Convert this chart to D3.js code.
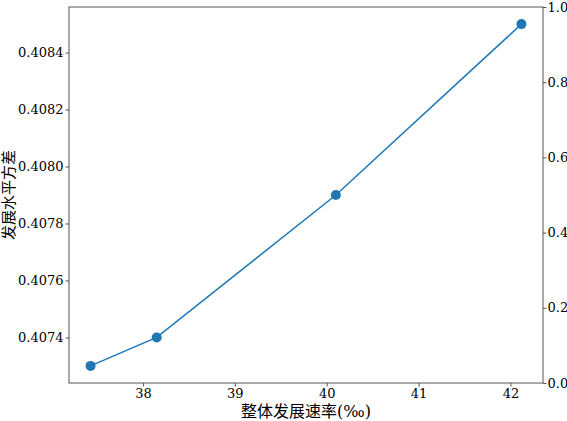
<!DOCTYPE html>
<html>
<head>
<meta charset="utf-8">
<script src="https://cdn.jsdelivr.net/npm/d3@7"></script>
<style>
  body { margin: 0; background: #fff; }
  svg text { font-family: "DejaVu Serif", "Noto Sans CJK SC", serif !important; }
</style>
</head>
<body>
<svg width="567" height="421"></svg>
<script>
// data
var rates     = [37.43, 38.15, 40.10, 42.12];
var variances = [0.4073, 0.4074, 0.4079, 0.4085];
var xTicks    = [38, 39, 40, 41, 42];
var yTicks    = [0.4074, 0.4076, 0.4078, 0.4080, 0.4082, 0.4084];
var rTicks    = [0.0, 0.2, 0.4, 0.6, 0.8, 1.0];

var svg = d3.select("svg");
var margin = {top: 7, right: 24, bottom: 38, left: 69};
var width  = 567 - margin.left - margin.right,
    height = 421 - margin.top - margin.bottom;

// matplotlib style 5% padding
var xr = d3.extent(rates), yr = d3.extent(variances);
var xPad = (xr[1] - xr[0]) * 0.05, yPad = (yr[1] - yr[0]) * 0.05;

var xScale = d3.scaleLinear().domain([xr[0] - xPad, xr[1] + xPad]).range([0, width]);
var yScale = d3.scaleLinear().domain([yr[0] - yPad, yr[1] + yPad]).range([height, 0]);
var rScale = d3.scaleLinear().domain([0, 1]).range([height, 0]);

var g = svg.append("g")
  .attr("transform", "translate(" + margin.left + "," + margin.top + ")");

var xAxis = d3.axisBottom(xScale).tickValues(xTicks).tickSize(3.5).tickPadding(2)
  .tickFormat(d3.format("d"));
var yAxis = d3.axisLeft(yScale).tickValues(yTicks).tickSize(3.5).tickPadding(2)
  .tickFormat(d3.format(".4f"));
var rAxis = d3.axisRight(rScale).tickValues(rTicks).tickSize(3.5).tickPadding(1)
  .tickFormat(d3.format(".1f"));

var gX = g.append("g").attr("transform", "translate(0," + height + ")").call(xAxis);
var gY = g.append("g").call(yAxis);
var gR = g.append("g").attr("transform", "translate(" + width + ",0)").call(rAxis);

[gX, gY, gR].forEach(function(a) {
  a.attr("font-size", 13);
  a.select(".domain").remove();
  a.selectAll("line").attr("stroke", "#555").attr("stroke-width", 1);
  a.selectAll("text").attr("fill", "#000");
});

// frame
g.append("rect")
  .attr("width", width).attr("height", height)
  .attr("fill", "none").attr("stroke", "#555").attr("stroke-width", 1);

var line = d3.line()
  .x(function(d, i) { return xScale(rates[i]); })
  .y(function(d) { return yScale(d); });

g.append("path")
  .datum(variances)
  .attr("d", line)
  .attr("fill", "none")
  .attr("stroke", "#1f77b4")
  .attr("stroke-width", 1.5);

g.selectAll("circle").data(variances).enter().append("circle")
  .attr("cx", function(d, i) { return xScale(rates[i]); })
  .attr("cy", function(d) { return yScale(d); })
  .attr("r", 5)
  .attr("fill", "#1f77b4");

// labels
svg.append("text")
  .attr("x", margin.left + width / 2).attr("y", 417)
  .attr("text-anchor", "middle").attr("font-size", 16)
  .text("整体发展速率(‰)");

svg.append("text")
  .attr("transform", "translate(14," + (margin.top + height / 2) + ") rotate(-90)")
  .attr("text-anchor", "middle").attr("font-size", 15)
  .text("发展水平方差");
</script>
</body>
</html>
